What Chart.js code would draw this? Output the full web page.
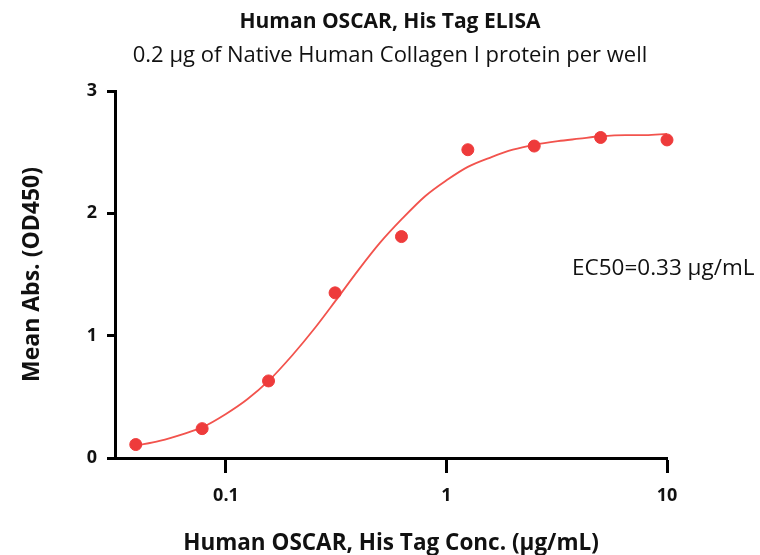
<!DOCTYPE html>
<html>
<head>
<meta charset="utf-8">
<script src="https://cdn.jsdelivr.net/npm/chart.js@4.4.1/dist/chart.umd.min.js"></script>
<style>
  html, body { margin: 0; padding: 0; background: #fff; }
  #wrap { width: 760px; height: 555px; }
</style>
</head>
<body>
<div id="wrap"><canvas id="elisaChart" width="760" height="555"></canvas></div>
<script>
// measured points (ug/mL vs OD450)
const concentrations = [0.039, 0.078, 0.156, 0.3125, 0.625, 1.25, 2.5, 5, 10];
const meanAbs = [0.11, 0.24, 0.63, 1.35, 1.81, 2.52, 2.55, 2.62, 2.60];

// fitted curve
const curveConc = [0.039, 0.05, 0.065, 0.078, 0.1, 0.125, 0.156, 0.2, 0.25, 0.3125, 0.4, 0.5, 0.625, 0.8, 1, 1.25, 1.6, 2, 2.5, 3.2, 4, 5, 6.5, 8, 10];
const curveAbs = [0.10, 0.14, 0.20, 0.25, 0.36, 0.48, 0.63, 0.84, 1.05, 1.28, 1.54, 1.76, 1.95, 2.14, 2.27, 2.38, 2.46, 2.52, 2.56, 2.59, 2.61, 2.63, 2.64, 2.64, 2.65];

const xTicks = [0.1, 1, 10];
const yTicks = [0, 1, 2, 3];
const ec50Label = "EC50=0.33 μg/mL";

document.addEventListener("DOMContentLoaded", () => {
    const canvas = document.getElementById("elisaChart");
    const ctx = canvas.getContext("2d");
    const fontFamily = "'Open Sans', sans-serif";

    // EC50 note, sits in the empty strip right of the plot
    const ec50Plugin = {
        id: "ec50Note",
        afterDraw(chart) {
            const c = chart.ctx;
            const yPix = chart.scales.y.getPixelForValue(1.55);
            c.save();
            c.font = "22.5px " + fontFamily;
            c.fillStyle = "#111";
            c.textAlign = "left";
            c.textBaseline = "middle";
            c.fillText(ec50Label, chart.chartArea.right - 95, yPix);
            c.restore();
        }
    };

    new Chart(ctx, {
        type: "scatter",
        data: {
            datasets: [
                {
                    label: "Points",
                    data: concentrations.map((x, i) => ({ x, y: meanAbs[i] })),
                    backgroundColor: "#ee3b3b",
                    borderColor: "#ee3b3b",
                    pointRadius: 6,
                    pointHoverRadius: 6,
                    showLine: false,
                    clip: false
                },
                {
                    label: "Fit",
                    data: curveConc.map((x, i) => ({ x, y: curveAbs[i] })),
                    borderColor: "#f2534d",
                    borderWidth: 1.8,
                    pointRadius: 0,
                    showLine: true,
                    cubicInterpolationMode: "monotone",
                    clip: false
                }
            ]
        },
        options: {
            responsive: false,
            animation: false,
            layout: { padding: { left: 20, right: 0, top: 0, bottom: 0 } },
            plugins: {
                legend: { display: false },
                tooltip: { enabled: false },
                title: {
                    display: true,
                    text: "Human OSCAR, His Tag ELISA",
                    color: "#111",
                    font: { family: fontFamily, size: 21, weight: "bold", lineHeight: 1 },
                    padding: { top: 12, bottom: 12 }
                },
                subtitle: {
                    display: true,
                    text: "0.2 μg of Native Human Collagen I protein per well",
                    color: "#111",
                    font: { family: fontFamily, size: 22, lineHeight: 1 },
                    padding: { top: 0, bottom: 24 }
                }
            },
            scales: {
                x: {
                    type: "logarithmic",
                    min: 0.0314,
                    max: 10,
                    afterBuildTicks: scale => {
                        scale.ticks = xTicks.map(v => ({ value: v }));
                    },
                    afterFit: scale => { scale.height = 97; },
                    border: { color: "#000", width: 3 },
                    grid: { drawOnChartArea: false, drawTicks: true, tickLength: 15, tickWidth: 3, color: "#000" },
                    ticks: {
                        color: "#111",
                        padding: 12,
                        font: { family: fontFamily, size: 18, weight: "bold" },
                        callback: v => String(v)
                    },
                    title: {
                        display: true,
                        text: "Human OSCAR, His Tag Conc. (μg/mL)",
                        color: "#111",
                        font: { family: fontFamily, size: 22.5, weight: "bold", lineHeight: 1 },
                        padding: { top: 0, bottom: 0 }
                    }
                },
                y: {
                    min: 0,
                    max: 3,
                    afterBuildTicks: scale => {
                        scale.ticks = yTicks.map(v => ({ value: v }));
                    },
                    afterFit: scale => { scale.width = 95; },
                    border: { color: "#000", width: 3 },
                    grid: { drawOnChartArea: false, drawTicks: true, tickLength: 8, tickWidth: 3, color: "#000" },
                    ticks: {
                        color: "#111",
                        padding: 10,
                        font: { family: fontFamily, size: 18, weight: "bold" }
                    },
                    title: {
                        display: true,
                        text: "Mean Abs. (OD450)",
                        color: "#111",
                        font: { family: fontFamily, size: 23, weight: "bold", lineHeight: 1 },
                        padding: { top: 1, bottom: 0 }
                    }
                },
                // empty strip on the right so the EC50 note has room
                yRight: {
                    position: "right",
                    min: 0,
                    max: 3,
                    afterFit: scale => { scale.width = 93; },
                    border: { display: false },
                    grid: { display: false },
                    ticks: { display: false }
                }
            }
        },
        plugins: [ec50Plugin]
    });
});
</script>
</body>
</html>
